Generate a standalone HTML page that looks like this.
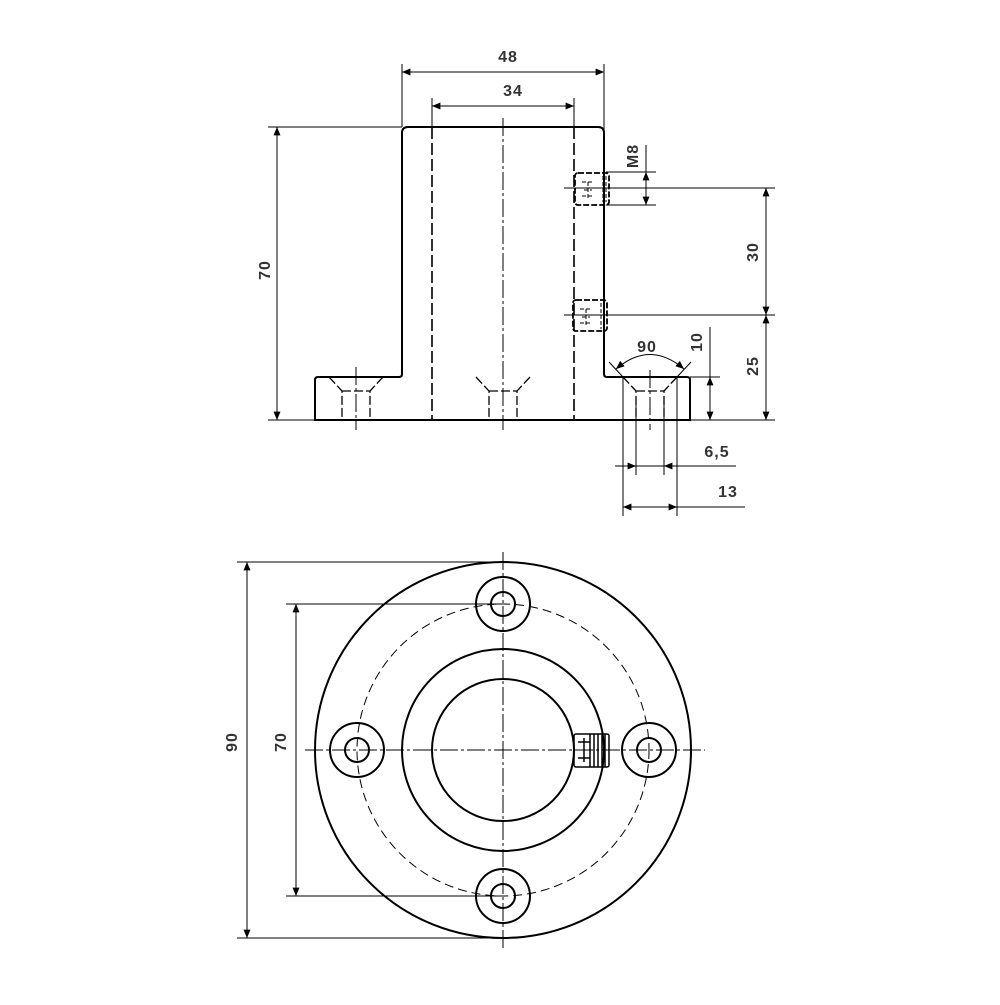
<!DOCTYPE html>
<html><head><meta charset="utf-8"><style>html,body{margin:0;padding:0;background:#fff}</style></head>
<body>
<svg width="1000" height="1000" viewBox="0 0 1000 1000" xmlns="http://www.w3.org/2000/svg">
<defs>
<marker id="a" viewBox="0 0 12 10" refX="12" refY="5" markerWidth="12" markerHeight="7" orient="auto-start-reverse" markerUnits="userSpaceOnUse"><path d="M0,0 L12,5 L0,10 z" fill="#000"/></marker>
</defs>
<g fill="none" stroke="#000">
<g stroke-width="2">
<path d="M315,380 Q315,377 318,377 L399,377 Q402,377 402,374 L402,133 Q402,127 408,127 L598,127 Q604,127 604,133 L604,374 Q604,377 607,377 L687,377 Q690,377 690,380 L690,420 L315,420 Z"/>
</g>
<g stroke-width="1.6" stroke-dasharray="12,4">
<line x1="432" y1="127" x2="432" y2="420"/>
<line x1="574" y1="127" x2="574" y2="420"/>
</g>
<g stroke-width="1" stroke-dasharray="18,3,3,3">
<line x1="503" y1="118" x2="503" y2="430"/>
<line x1="356" y1="367" x2="356" y2="430"/>
<line x1="650" y1="370" x2="650" y2="430"/>
</g>
<g stroke-width="1.3" stroke-dasharray="9,3">
<path d="M329,377 L342,391 L342,420 M383,377 L370,391 L370,420 M342,391 L370,391"/>
<path d="M476,377 L489,391 L489,420 M530,377 L517,391 L517,420 M489,391 L517,391"/>
<path d="M623,377 L636,391 L636,420 M677,377 L664,391 L664,420 M636,391 L664,391"/>
</g>
<g stroke-width="1.8" stroke-dasharray="6,2">
<rect x="575" y="173" width="34" height="32" rx="3"/>
<rect x="573" y="300" width="34" height="31" rx="3"/>
</g>
<g stroke-width="1" stroke-dasharray="4,2">
<path d="M582,182 h12 M582,196 h12 M588,182 v18 M584,190 h8 M603,176 v26 M606,176 v26"/>
<path d="M580,309 h12 M580,323 h12 M586,309 v18 M582,317 h8 M601,303 v26 M604,303 v26"/>
</g>
<g stroke-width="1">
<line x1="402" y1="64" x2="402" y2="127"/><line x1="604" y1="64" x2="604" y2="170"/>
<line x1="402" y1="72" x2="604" y2="72" marker-start="url(#a)" marker-end="url(#a)"/>
<line x1="432" y1="98" x2="432" y2="127"/><line x1="574" y1="98" x2="574" y2="127"/>
<line x1="432" y1="106" x2="574" y2="106" marker-start="url(#a)" marker-end="url(#a)"/>
<line x1="268" y1="127" x2="402" y2="127"/><line x1="268" y1="420" x2="315" y2="420"/>
<line x1="277" y1="127" x2="277" y2="420" marker-start="url(#a)" marker-end="url(#a)"/>
<line x1="606" y1="172" x2="656" y2="172"/><line x1="606" y1="205" x2="656" y2="205"/>
<line x1="646" y1="145" x2="646" y2="205"/>
<line x1="646" y1="172" x2="646" y2="192" marker-start="url(#a)"/>
<line x1="646" y1="186" x2="646" y2="205" marker-end="url(#a)"/>
<line x1="564" y1="188" x2="775" y2="188"/><line x1="564" y1="315" x2="775" y2="315"/>
<line x1="690" y1="420" x2="775" y2="420"/>
<line x1="766" y1="188" x2="766" y2="315" marker-start="url(#a)" marker-end="url(#a)"/>
<line x1="766" y1="315" x2="766" y2="420" marker-start="url(#a)" marker-end="url(#a)"/>
<line x1="690" y1="377" x2="720" y2="377"/>
<line x1="710" y1="327" x2="710" y2="420"/>
<line x1="710" y1="377" x2="710" y2="420" marker-start="url(#a)" marker-end="url(#a)"/>
<line x1="609" y1="362" x2="623" y2="377"/><line x1="691" y1="362" x2="677" y2="377"/>
<path d="M616,369 Q650,340 684,369" marker-start="url(#a)" marker-end="url(#a)"/>
<line x1="636" y1="400" x2="636" y2="475"/><line x1="664" y1="400" x2="664" y2="475"/>
<line x1="623" y1="377" x2="623" y2="516"/><line x1="677" y1="377" x2="677" y2="516"/>
<line x1="615" y1="466" x2="736" y2="466"/>
<line x1="622" y1="466" x2="636" y2="466" marker-end="url(#a)"/>
<line x1="678" y1="466" x2="664" y2="466" marker-end="url(#a)"/>
<line x1="623" y1="507" x2="745" y2="507"/>
<line x1="623" y1="507" x2="677" y2="507" marker-start="url(#a)" marker-end="url(#a)"/>
</g>
<g stroke-width="2">
<circle cx="503" cy="750" r="188"/>
<circle cx="503" cy="750" r="101"/>
<circle cx="503" cy="750" r="71"/>
<circle cx="503" cy="604" r="27"/><circle cx="503" cy="604" r="12"/>
<circle cx="503" cy="896" r="27"/><circle cx="503" cy="896" r="12"/>
<circle cx="357" cy="750" r="27"/><circle cx="357" cy="750" r="12"/>
<circle cx="649" cy="750" r="27"/><circle cx="649" cy="750" r="12"/>
</g>
<circle cx="503" cy="750" r="146" stroke-width="1" stroke-dasharray="9,5"/>
<g stroke-width="1" stroke-dasharray="18,3,3,3">
<line x1="503" y1="552" x2="503" y2="948"/>
<line x1="305" y1="750" x2="705" y2="750"/>
</g>
<g stroke-width="1.5">
<rect x="574" y="734" width="35" height="33" rx="2"/>
<path d="M590,734 v33 M594,734 v33 M598,734 v33 M602,734 v33 M605,734 v33 M578,742 h12 M578,758 h12 M584,738 v24"/>
</g>
<g stroke-width="1">
<line x1="237" y1="562" x2="503" y2="562"/><line x1="237" y1="938" x2="503" y2="938"/>
<line x1="247" y1="562" x2="247" y2="938" marker-start="url(#a)" marker-end="url(#a)"/>
<line x1="286" y1="604" x2="503" y2="604"/><line x1="286" y1="896" x2="503" y2="896"/>
<line x1="296" y1="604" x2="296" y2="896" marker-start="url(#a)" marker-end="url(#a)"/>
</g>
</g>
<g font-family="Liberation Sans, sans-serif" font-size="16" font-weight="bold" fill="#333" letter-spacing="1">
<text x="508" y="62" text-anchor="middle">48</text>
<text x="513" y="96" text-anchor="middle">34</text>
<text x="270" y="270" text-anchor="middle" transform="rotate(-90 270 270)">70</text>
<text x="638" y="156" text-anchor="middle" transform="rotate(-90 638 156)">M8</text>
<text x="758" y="252" text-anchor="middle" transform="rotate(-90 758 252)">30</text>
<text x="758" y="366" text-anchor="middle" transform="rotate(-90 758 366)">25</text>
<text x="702" y="342" text-anchor="middle" transform="rotate(-90 702 342)">10</text>
<text x="647" y="352" text-anchor="middle">90</text>
<text x="717" y="457" text-anchor="middle">6,5</text>
<text x="728" y="497" text-anchor="middle">13</text>
<text x="237" y="742" text-anchor="middle" transform="rotate(-90 237 742)">90</text>
<text x="286" y="742" text-anchor="middle" transform="rotate(-90 286 742)">70</text>
</g>
</svg>
</body></html>
